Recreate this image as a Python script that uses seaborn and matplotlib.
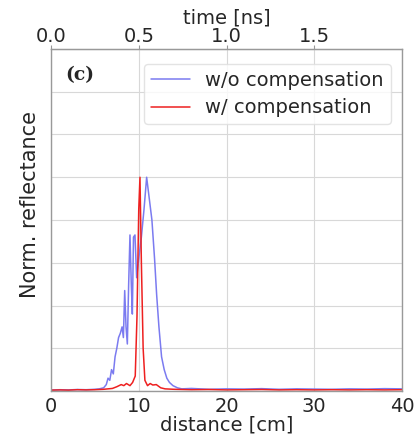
import numpy as np
import pandas as pd
import matplotlib
matplotlib.use("Agg")
import matplotlib.pyplot as plt
import seaborn as sns

# distance [cm] and normalized reflectance
dist_wo = [0, 1, 2, 3, 4, 5, 5.5, 6.0, 6.3, 6.5, 6.7, 6.9, 7.1, 7.3, 7.5, 7.7, 7.9, 8.1, 8.25,
           8.4, 8.55, 8.7, 8.85, 9.0, 9.15, 9.27, 9.4, 9.57, 9.76, 10.0, 10.3, 10.6, 10.9,
           11.2, 11.5, 11.8, 12.04, 12.3, 12.6, 12.9, 13.2, 13.5, 13.9, 14.4, 14.9, 16, 18,
           20, 22, 24, 26, 28, 30, 32, 34, 36, 38, 40]
refl_wo = [0.004, 0.006, 0.005, 0.007, 0.006, 0.008, 0.01, 0.015, 0.03, 0.06, 0.05, 0.1,
           0.08, 0.16, 0.2, 0.25, 0.27, 0.3, 0.25, 0.47, 0.3, 0.22, 0.5, 0.73, 0.5, 0.36,
           0.72, 0.73, 0.53, 0.62, 0.72, 0.85, 1.0, 0.9, 0.8, 0.62, 0.45, 0.3, 0.16, 0.1,
           0.06, 0.04, 0.025, 0.015, 0.01, 0.012, 0.008, 0.01, 0.009, 0.011, 0.008, 0.01,
           0.009, 0.008, 0.01, 0.009, 0.011, 0.01]

dist_w = [0, 1, 2, 3, 4, 5, 6, 7, 7.5, 8.0, 8.3, 8.6, 9.0, 9.3, 9.6, 9.8, 10.0, 10.14,
          10.3, 10.5, 10.7, 11.0, 11.3, 11.6, 12.0, 12.5, 13.0, 14, 16, 18, 20, 22, 24,
          26, 28, 30, 32, 34, 36, 38, 40]
refl_w = [0.004, 0.005, 0.004, 0.006, 0.005, 0.006, 0.008, 0.012, 0.02, 0.03, 0.025, 0.035,
          0.025, 0.04, 0.07, 0.35, 0.85, 1.0, 0.6, 0.2, 0.05, 0.025, 0.035, 0.028, 0.03,
          0.015, 0.01, 0.008, 0.006, 0.007, 0.005, 0.006, 0.007, 0.005, 0.006, 0.005,
          0.006, 0.005, 0.006, 0.005, 0.006]

x_ticks = [0, 10, 20, 30, 40]
t_ticks = [0.0, 0.5, 1.0, 1.5]

df = pd.concat([
    pd.DataFrame({"distance": dist_wo, "refl": refl_wo, "series": "w/o compensation"}),
    pd.DataFrame({"distance": dist_w, "refl": refl_w, "series": "w/ compensation"}),
])

sns.set_style("whitegrid")
plt.rcParams['font.family'] = ['DejaVu Sans']

fig = plt.figure(figsize=(4.15, 4.41), dpi=100)
ax = fig.add_axes([51/415, 1 - 391/441, 351/415, 342/441])

sns.lineplot(data=df, x="distance", y="refl", hue="series",
             palette={"w/o compensation": "#7b7bf0", "w/ compensation": "#ee2020"},
             linewidth=1.1, ax=ax, sort=False, estimator=None)

ax.set_xlim(0, 40)
ax.set_ylim(0, 1.6)
ax.set_xticks(x_ticks)
ax.set_yticks(np.arange(0, 1.61, 0.2))
ax.set_yticklabels([])
ax.grid(True, color="#d8d8d8", linewidth=0.8)
for s in ax.spines.values():
    s.set_color("#999999")
    s.set_linewidth(1.0)
ax.tick_params(axis="both", which="both", length=3, color="#999999", labelsize=14, pad=1)
ax.set_xlabel("distance [cm]", fontsize=14, labelpad=0)
ax.set_ylabel("Norm. reflectance", fontsize=15, labelpad=4)
ax.yaxis.set_label_coords(-0.03, 0.545)

sec = ax.secondary_xaxis("top", functions=(lambda d: d / 20.0, lambda t: t * 20.0))
sec.set_xticks(t_ticks)
sec.set_xticklabels([f"{t:.1f}" for t in t_ticks])
sec.tick_params(labelsize=14, length=3, color="#999999", pad=-1)
sec.set_xlabel("time [ns]", fontsize=14, labelpad=3)
sec.spines["top"].set_color("#999999")

ax.text(0.04, 0.925, "(c)", transform=ax.transAxes, fontsize=13.5, fontweight="bold",
        family="DejaVu Serif", va="center", ha="left")

leg = ax.legend(loc="upper right", bbox_to_anchor=(0.995, 0.985), fontsize=14,
                frameon=True, handlelength=2.0, borderpad=0.35, labelspacing=0.45,
                handletextpad=0.8)
leg.get_frame().set_edgecolor("#dddddd")
leg.set_title(None)

fig.savefig("out.png", dpi=100)
